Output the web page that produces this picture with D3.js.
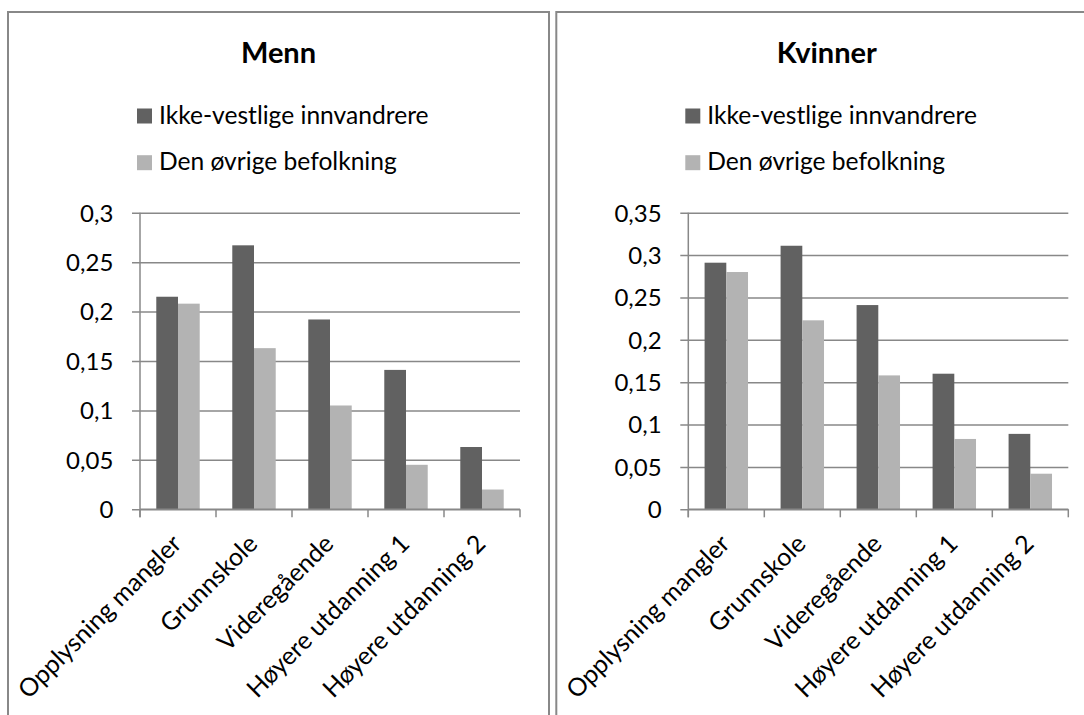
<!DOCTYPE html>
<html>
<head>
<meta charset="utf-8">
<script src="https://cdn.jsdelivr.net/npm/d3@7"></script>
<style>
  html, body { margin: 0; padding: 0; background: #ffffff; }
  svg text { font-family: Lato, "Open Sans", sans-serif; fill: #000; }
</style>
</head>
<body>
<svg id="chart" width="1084" height="715"></svg>
<script>
// Education categories on the x axis
const categories = ["Opplysning mangler", "Grunnskole", "Videregående", "Høyere utdanning 1", "Høyere utdanning 2"];
const seriesNames = ["Ikke-vestlige innvandrere", "Den øvrige befolkning"];

// Men
const mennIkkeVestlige = [0.215, 0.267, 0.192, 0.141, 0.063];
const mennOvrige       = [0.208, 0.163, 0.105, 0.045, 0.020];
const mennTicks        = [0, 0.05, 0.1, 0.15, 0.2, 0.25, 0.3];

// Women
const kvinnerIkkeVestlige = [0.291, 0.311, 0.241, 0.160, 0.089];
const kvinnerOvrige       = [0.280, 0.223, 0.158, 0.083, 0.042];
const kvinnerTicks        = [0, 0.05, 0.1, 0.15, 0.2, 0.25, 0.3, 0.35];

const colors = ["#616161", "#b3b3b3"];
const gridColor = "#888888";

// Norwegian number format: decimal comma
const nb = d3.formatLocale({ decimal: ",", thousands: " ", grouping: [3], currency: ["", " kr"] });
const fmt = nb.format("~g");

const svg = d3.select("#chart");

function drawPanel(offsetX, title, seriesA, seriesB, ticks) {
  const g = svg.append("g").attr("transform", `translate(${offsetX},0)`);

  // chart area frame (open at the bottom, runs off the page)
  g.append("path")
    .attr("d", "M8,716 L8,12 L549,12 L549,716")
    .attr("fill", "none")
    .attr("stroke", gridColor)
    .attr("stroke-width", 2);

  const left = 140, right = 520, top = 212.7, bottom = 509.3;

  const x0 = d3.scaleBand().domain(categories).range([left, right]).paddingInner(0).paddingOuter(0);
  const x1 = d3.scaleBand().domain(seriesNames).range([0, x0.bandwidth()]).paddingInner(0).paddingOuter(0.75);
  const y = d3.scaleLinear().domain([0, d3.max(ticks)]).range([bottom, top]);

  // title
  g.append("text")
    .attr("x", 278.5).attr("y", 63)
    .attr("text-anchor", "middle")
    .attr("font-weight", "bold")
    .attr("font-size", 29)
    .text(title);

  // legend
  const leg = g.append("g");
  seriesNames.forEach((name, i) => {
    const by = 123.5 + i * 46.7;
    leg.append("rect")
      .attr("x", 137).attr("y", by - 15).attr("width", 15).attr("height", 15)
      .attr("fill", colors[i]);
    leg.append("text")
      .attr("x", 159).attr("y", by)
      .attr("font-size", 24.6)
      .text(name);
  });

  // y axis with gridlines
  const yAxis = d3.axisLeft(y)
    .tickValues(ticks)
    .tickSize(-(right - left + 8))
    .tickPadding(18.7)
    .tickFormat(fmt);
  const ya = g.append("g").attr("transform", `translate(${left - 8},0)`).call(yAxis);
  ya.select(".domain").remove();
  ya.selectAll(".tick line").attr("stroke", gridColor).attr("stroke-width", 1.5);
  ya.selectAll(".tick text")
    .attr("font-size", 24)
    .attr("font-family", "Lato, 'Open Sans', sans-serif")
    .attr("fill", "#000")
    .attr("dy", "0.35em");

  // bars
  const rows = categories.map((c, i) => ({ c, vals: [seriesA[i], seriesB[i]] }));
  const grp = g.append("g").selectAll("g").data(rows).join("g")
    .attr("transform", d => `translate(${x0(d.c)},0)`);
  grp.selectAll("rect")
    .data(d => d.vals.map((v, k) => ({ v, k })))
    .join("rect")
    .attr("x", d => x1(seriesNames[d.k]))
    .attr("width", x1.bandwidth())
    .attr("y", d => y(d.v))
    .attr("height", d => y(0) - y(d.v))
    .attr("fill", d => colors[d.k]);

  // vertical axis line
  g.append("line")
    .attr("x1", left).attr("x2", left)
    .attr("y1", top).attr("y2", bottom + 8)
    .attr("stroke", gridColor).attr("stroke-width", 1.5);

  // horizontal axis with ticks at category boundaries
  g.append("line")
    .attr("x1", left).attr("x2", right)
    .attr("y1", y(0)).attr("y2", y(0))
    .attr("stroke", gridColor).attr("stroke-width", 1.5);
  const bounds = categories.map(c => x0(c)).concat([x0(categories[categories.length - 1]) + x0.bandwidth()]);
  g.append("g").selectAll("line").data(bounds).join("line")
    .attr("x1", d => d).attr("x2", d => d)
    .attr("y1", y(0)).attr("y2", y(0) + 8)
    .attr("stroke", gridColor).attr("stroke-width", 1.5);

  // rotated category labels
  g.append("g").selectAll("text").data(categories).join("text")
    .attr("transform", d => `translate(${x0(d) + x0.bandwidth() / 2 + 5},${y(0) + 36}) rotate(-45)`)
    .attr("text-anchor", "end")
    .attr("font-size", 25)
    .text(d => d);
}

drawPanel(0, "Menn", mennIkkeVestlige, mennOvrige, mennTicks);
drawPanel(548.3, "Kvinner", kvinnerIkkeVestlige, kvinnerOvrige, kvinnerTicks);
</script>
</body>
</html>
